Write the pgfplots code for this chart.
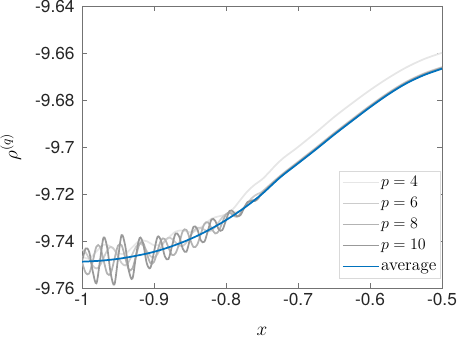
\documentclass[border=0pt]{standalone}
\usepackage{fontspec}
\usepackage{pgfplots}
\pgfplotsset{compat=1.18}
\newfontfamily\heros{TeX Gyre Heros}
\definecolor{mblue}{HTML}{0072BD}
\definecolor{axgray}{HTML}{262626}
\definecolor{gp4}{HTML}{E6E6E6}
\definecolor{gp6}{HTML}{CCCCCC}
\definecolor{gp8}{HTML}{B3B3B3}
\definecolor{gp10}{HTML}{999999}

\begin{document}
\begin{tikzpicture}
\begin{axis}[
    scale only axis,
    width=270pt,
    height=211.5pt,
    xmin=-1, xmax=-0.5,
    ymin=-9.76, ymax=-9.64,
    xtick={-1,-0.9,-0.8,-0.7,-0.6,-0.5},
    ytick={-9.76,-9.74,-9.72,-9.7,-9.68,-9.66,-9.64},
    tick align=inside,
    tick pos=both,
    major tick length=3.5pt,
    axis line style={black!55, line width=0.5pt},
    every tick/.style={black!55, line width=0.4pt},
    /pgf/number format/assume math mode=true,
    tick label style={font=\heros\fontsize{13}{15}\selectfont, text=axgray},
    yticklabel style={xshift=-2pt},
    xlabel={$x$},
    ylabel={$\rho^{(q)}$},
    label style={font=\fontsize{14}{16}\selectfont},
    xlabel style={at={(axis description cs:0.5,-0.155)}, anchor=center},
    ylabel style={at={(axis description cs:-0.198,0.5)}, anchor=center},
    legend style={at={(axis description cs:0.996,0.034)}, anchor=south east,
        draw=black!15, fill=white, font=\fontsize{13}{15}\selectfont,
        inner xsep=2pt, inner ysep=1.5pt, row sep=1.25pt,
        nodes={inner sep=1pt, text height=9.5pt, text depth=3pt}},
    legend cell align=left,
    legend image code/.code={\draw[#1] (0pt,0pt) -- (27pt,0pt);},
    every axis plot/.append style={line width=1.3pt, smooth, tension=0.55},
]

% p = 4
\addplot[gp4] coordinates {
(-1.00,-9.7466) (-0.99,-9.7474) (-0.98,-9.7445) (-0.97,-9.7416) (-0.96,-9.7424)
(-0.95,-9.7451) (-0.94,-9.7454) (-0.93,-9.7426) (-0.92,-9.7399) (-0.91,-9.7401)
(-0.90,-9.7418) (-0.89,-9.7414) (-0.88,-9.7387) (-0.87,-9.7360) (-0.86,-9.7355)
(-0.85,-9.7363) (-0.84,-9.7355) (-0.83,-9.7330) (-0.82,-9.7305) (-0.81,-9.7295)
(-0.80,-9.7287) (-0.79,-9.7263) (-0.78,-9.7225) (-0.77,-9.7188) (-0.76,-9.7160)
(-0.75,-9.7138) (-0.74,-9.7107) (-0.73,-9.7074) (-0.72,-9.7046) (-0.71,-9.7023)
(-0.70,-9.7000) (-0.675,-9.6938) (-0.65,-9.6873) (-0.625,-9.6814) (-0.60,-9.6758)
(-0.575,-9.6707) (-0.55,-9.6662) (-0.525,-9.6626) (-0.50,-9.6599)
};

% p = 6
\addplot[gp6] coordinates {
(-1.000,-9.7438) (-0.995,-9.7448) (-0.990,-9.7476) (-0.985,-9.7505) (-0.980,-9.7517)
(-0.975,-9.7504) (-0.970,-9.7472) (-0.965,-9.7440) (-0.960,-9.7425) (-0.955,-9.7437)
(-0.950,-9.7466) (-0.945,-9.7494) (-0.940,-9.7504) (-0.935,-9.7488) (-0.930,-9.7456)
(-0.925,-9.7425) (-0.920,-9.7411) (-0.915,-9.7419) (-0.910,-9.7443) (-0.905,-9.7464)
(-0.900,-9.7471) (-0.895,-9.7455) (-0.890,-9.7426) (-0.885,-9.7399) (-0.880,-9.7386)
(-0.875,-9.7391) (-0.870,-9.7406) (-0.865,-9.7420) (-0.860,-9.7421) (-0.855,-9.7406)
(-0.850,-9.7382) (-0.845,-9.7358) (-0.840,-9.7344) (-0.835,-9.7344) (-0.830,-9.7352)
(-0.825,-9.7359) (-0.820,-9.7355) (-0.815,-9.7340) (-0.810,-9.7319) (-0.805,-9.7299)
(-0.800,-9.7286) (-0.795,-9.7281) (-0.790,-9.7281) (-0.785,-9.7278) (-0.780,-9.7271)
(-0.775,-9.7257) (-0.770,-9.7238) (-0.765,-9.7220) (-0.760,-9.7207) (-0.755,-9.7198)
(-0.750,-9.7190) (-0.725,-9.7123) (-0.700,-9.7063) (-0.675,-9.7003) (-0.650,-9.6941)
(-0.625,-9.6882) (-0.600,-9.6824) (-0.575,-9.6770) (-0.550,-9.6723) (-0.525,-9.6687)
(-0.500,-9.6660)
};

% p = 8
\addplot[gp8] coordinates {
(-1.000,-9.7488) (-0.995,-9.7535) (-0.990,-9.7538) (-0.985,-9.7486) (-0.980,-9.7424)
(-0.975,-9.7424) (-0.970,-9.7482) (-0.965,-9.7539) (-0.960,-9.7537) (-0.955,-9.7478)
(-0.950,-9.7420) (-0.945,-9.7418) (-0.940,-9.7471) (-0.935,-9.7521) (-0.930,-9.7517)
(-0.925,-9.7463) (-0.920,-9.7412) (-0.915,-9.7408) (-0.910,-9.7453) (-0.905,-9.7494)
(-0.900,-9.7489) (-0.895,-9.7441) (-0.890,-9.7395) (-0.885,-9.7392) (-0.880,-9.7427)
(-0.875,-9.7459) (-0.870,-9.7452) (-0.865,-9.7410) (-0.860,-9.7358) (-0.855,-9.7353)
(-0.850,-9.7392) (-0.845,-9.7426) (-0.840,-9.7416) (-0.835,-9.7370) (-0.830,-9.7327)
(-0.825,-9.7321) (-0.820,-9.7346) (-0.815,-9.7368) (-0.810,-9.7357) (-0.805,-9.7320)
(-0.800,-9.7287) (-0.795,-9.7279) (-0.790,-9.7291) (-0.785,-9.7297) (-0.780,-9.7284)
(-0.775,-9.7260) (-0.770,-9.7237) (-0.765,-9.7228) (-0.760,-9.7224) (-0.755,-9.7215)
(-0.750,-9.7196) (-0.725,-9.7126) (-0.700,-9.7066) (-0.675,-9.7006) (-0.650,-9.6944)
(-0.625,-9.6885) (-0.600,-9.6827) (-0.575,-9.6773) (-0.550,-9.6726) (-0.525,-9.6690)
(-0.500,-9.6663)
};

% p = 10
\addplot[gp10] coordinates {
(-1.000,-9.7488) (-0.995,-9.7432) (-0.990,-9.7447) (-0.985,-9.7530) (-0.980,-9.7580)
(-0.975,-9.7484) (-0.970,-9.7385) (-0.965,-9.7428) (-0.960,-9.7540) (-0.955,-9.7585)
(-0.950,-9.7476) (-0.945,-9.7375) (-0.940,-9.7420) (-0.935,-9.7525) (-0.930,-9.7560)
(-0.925,-9.7463) (-0.920,-9.7387) (-0.915,-9.7412) (-0.910,-9.7495) (-0.905,-9.7514)
(-0.900,-9.7446) (-0.895,-9.7382) (-0.890,-9.7401) (-0.885,-9.7465) (-0.880,-9.7477)
(-0.875,-9.7422) (-0.870,-9.7368) (-0.865,-9.7381) (-0.860,-9.7433) (-0.855,-9.7446)
(-0.850,-9.7392) (-0.845,-9.7339) (-0.840,-9.7349) (-0.835,-9.7397) (-0.830,-9.7403)
(-0.825,-9.7355) (-0.820,-9.7308) (-0.815,-9.7314) (-0.810,-9.7351) (-0.805,-9.7353)
(-0.800,-9.7311) (-0.795,-9.7272) (-0.790,-9.7275) (-0.785,-9.7294) (-0.780,-9.7290)
(-0.775,-9.7260) (-0.770,-9.7234) (-0.765,-9.7229) (-0.760,-9.7230) (-0.755,-9.7218)
(-0.750,-9.7198) (-0.725,-9.7128) (-0.700,-9.7068) (-0.675,-9.7008) (-0.650,-9.6946)
(-0.625,-9.6887) (-0.600,-9.6829) (-0.575,-9.6775) (-0.550,-9.6728) (-0.525,-9.6692)
(-0.500,-9.6665)
};

% average
\addplot[mblue] coordinates {
(-1.000,-9.7488) (-0.975,-9.7484) (-0.950,-9.7476) (-0.925,-9.7463) (-0.900,-9.7446)
(-0.875,-9.7422) (-0.850,-9.7392) (-0.825,-9.7355) (-0.800,-9.7311) (-0.775,-9.7260)
(-0.750,-9.7200) (-0.725,-9.7130) (-0.700,-9.7070) (-0.675,-9.7010) (-0.650,-9.6948)
(-0.625,-9.6889) (-0.600,-9.6831) (-0.575,-9.6777) (-0.550,-9.6730) (-0.525,-9.6694)
(-0.500,-9.6667)
};

\legend{$p=4$, $p=6$, $p=8$, $p=10$, average}
\end{axis}
\pgfresetboundingbox
\path[use as bounding box] ([shift={(-61.5pt,-38.25pt)}]current axis.south west)
    rectangle ([shift={(12.75pt,4.5pt)}]current axis.north east);
\end{tikzpicture}
\end{document}
